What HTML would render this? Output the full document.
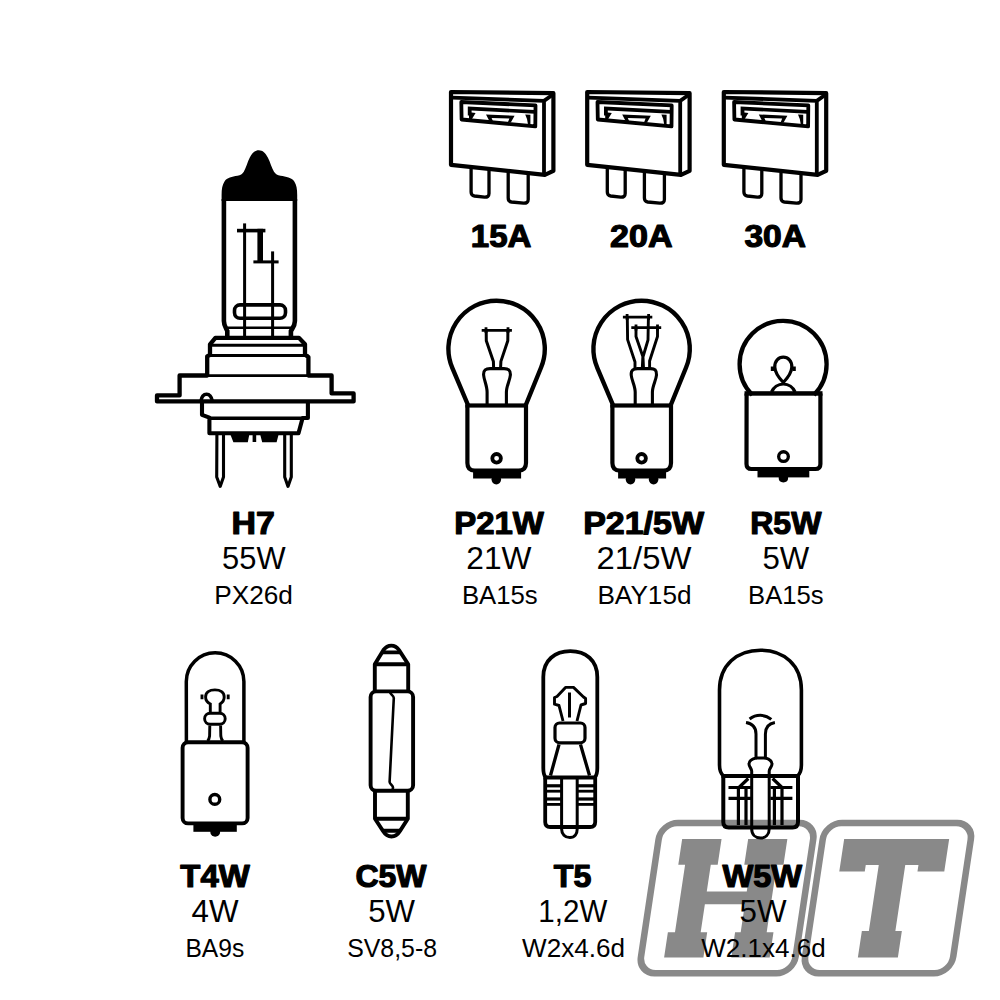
<!DOCTYPE html>
<html><head><meta charset="utf-8"><title>Bulb set</title>
<style>html,body{margin:0;padding:0;background:#fff;}svg{display:block;}text{font-family:"Liberation Sans",sans-serif;fill:#000;}</style>
</head><body>
<svg width="1000" height="1000" viewBox="0 0 1000 1000">
<rect width="1000" height="1000" fill="#fff"/>
<g transform="translate(135,0) skewX(-8.53)" >
<rect x="649.5" y="823" width="154.6" height="150.2" rx="16.5" ry="16.5" fill="none" stroke="#898989" stroke-width="6.6"/>
<rect x="813.6" y="823" width="148.1" height="150.2" rx="16.5" ry="16.5" fill="none" stroke="#898989" stroke-width="6.6"/>
<path fill="#898989" d="M835,839 L940,839 L940,871.6 L913.2,871.6 L913.2,865 L900,865 L900,931 L906.5,931 L906.5,957.6 L866.5,957.6 L866.5,931 L873.5,931 L873.5,865 L860.5,865 L860.5,871.6 L835,871.6 Z"/>
<path fill="#898989" d="M673,839 L712.4,839 L712.4,864.8 L705.5,864.8 L705.5,891.6 L745.5,891.6 L745.5,864.8 L739,864.8 L739,839 L778.2,839 L778.2,864.8 L771.5,864.8 L771.5,932.2 L778.3,932.2 L778.3,957.4 L739.9,957.4 L739.9,932.2 L745.5,932.2 L745.5,904.2 L705.5,904.2 L705.5,932.2 L712,932.2 L712,957.4 L672.7,957.4 L672.7,932.2 L679.8,932.2 L679.8,864.8 L673,864.8 Z"/>
</g>
<g>
<path d="M258.8,150.2 C255,150.2 252,153 249.8,157.5 C247.5,162 246,168 243.8,171.8 C242.3,174.3 240.5,175.2 237.5,175.8 C232,176.8 227,177.5 224.5,181.5 C222.3,185 221.6,189 221.6,195 L221.6,201 L297.2,201 L297.2,195 C297.2,189 296.5,185 294.3,181.5 C291.8,177.5 286,176.8 280.5,175.8 C277.5,175.2 275.5,174.3 274,171.8 C271.7,168 270.2,162 267.8,157.5 C265.6,153 262.6,150.2 258.8,150.2 Z"/>
<path fill="none" stroke="#000" stroke-width="4.6" d="M223.9,199 L223.9,321 C223.9,326 226,328 227.3,331 L227.3,338 M294.9,199 L294.9,321 C294.9,326 292.5,328 290.9,331 L290.9,338"/>
<path fill="none" stroke="#000" stroke-width="2.6" d="M226,327.8 L292.4,327.8"/>
<rect x="243.1" y="223.4" width="3" height="114"/>
<rect x="271.1" y="251.4" width="3" height="86"/>
<rect x="237" y="228.8" width="28.4" height="3.6"/>
<rect x="257.4" y="228.8" width="5.6" height="34"/>
<rect x="253.4" y="260.4" width="25.2" height="3"/>
<rect x="234.5" y="304.9" width="51" height="13.4" rx="5.5" fill="none" stroke="#000" stroke-width="3.6"/>
<path fill="none" stroke="#000" stroke-width="4.3" stroke-linejoin="round" d="M215.4,337.9 L299,337.9 L305,344.3 L305,354.8 L308.4,357 L308.4,375.5 L331.6,375.5 L331.6,393.4 L353.6,393.4 L353.6,401.4 L157,401.4 L157,395.4 L179.6,395.4 L179.6,375.5 L207.2,375.5 L207.2,356.4 L210,354.8 L210,344.3 Z"/>
<path fill="none" stroke="#000" stroke-width="2.9" d="M210,345.3 L305,345.3 M207.2,355.5 L308.4,355.5 M207.2,375.6 L308.4,375.6"/>
<path fill="none" stroke="#000" stroke-width="3.5" d="M200.8,401.6 C201.5,396.5 204,394.3 206.6,394.3 C209.2,394.3 211.5,396.5 212.5,401.6"/>
<path fill="none" stroke="#000" stroke-width="4.1" stroke-linejoin="round" d="M202,401.6 L202,414.8 L209.4,417.6 L209.4,433.3 L298.5,433.3 L302.6,418 L307.9,418 L307.9,401.6"/>
<path fill="none" stroke="#000" stroke-width="3.4" d="M209.4,418.2 L303,418.2"/>
<path d="M229.8,433 L249.6,433 L247.8,442.2 L233.4,442.2 Z M259.8,433 L279,433 L276.6,442.2 L262.2,442.2 Z M252.6,433 L256.2,433 L256.2,442 L252.6,442 Z"/>
<path fill="none" stroke="#000" stroke-width="3.1" stroke-linejoin="round" d="M216.9,434 L216.7,477 L220.2,486.4 L223.5,477 L223.5,434 M284.7,434 L284.7,477 L288,486.4 L291.3,477 L291.3,434"/>
</g>
<g transform="translate(0,0)" fill="none" stroke="#000" stroke-linejoin="round"><path stroke-width="4.2" d="M451,92 L553.4,93.2 L553.4,170.8 L544.8,174.8 L451,164.8 Z"/><path stroke-width="3.8" d="M452,97.6 L544,100.9 L553.3,94.2 M544,100.6 L544,175"/><path stroke-width="3.8" d="M461.3,102 L535.5,105.4 L535.3,126.4 L461.6,119.5 Z"/></g><g transform="translate(0,0)"><path d="M467.8,106.6 L535,110.1 L535,113.7 L471.6,110.4 L471.6,112.6 L475.6,113 L471.8,119.2 L469,119.2 L469,115.5 L467.8,115.5 Z"/><path fill-rule="evenodd" d="M486,114.4 L514.6,115.8 L510.8,122.5 L489.6,121.5 Z M491.6,117.9 L509.4,118.6 L507.8,122.5 L493.2,121.8 Z"/><path d="M525.2,114.6 L530.4,114.8 L530.4,124.6 L528,124.4 L527,119 Z"/></g><g transform="translate(0,0)" fill="none" stroke="#000" stroke-linejoin="round"><path stroke-width="3.3" d="M471.1,166.4 L471.1,192 Q471.1,195.5 474.5,196 L484.5,197.2 Q489,197.4 489,193.5 L489,168"/><path stroke-width="3.3" d="M508.2,172.4 L508.2,198 Q508.2,201.5 511.5,202 L523.5,203.2 Q528.2,203.4 528.2,199.5 L528.2,174.2"/></g>
<g transform="translate(136.2,0)" fill="none" stroke="#000" stroke-linejoin="round"><path stroke-width="4.2" d="M451,92 L553.4,93.2 L553.4,170.8 L544.8,174.8 L451,164.8 Z"/><path stroke-width="3.8" d="M452,97.6 L544,100.9 L553.3,94.2 M544,100.6 L544,175"/><path stroke-width="3.8" d="M461.3,102 L535.5,105.4 L535.3,126.4 L461.6,119.5 Z"/></g><g transform="translate(136.2,0)"><path d="M467.8,106.6 L535,110.1 L535,113.7 L471.6,110.4 L471.6,112.6 L475.6,113 L471.8,119.2 L469,119.2 L469,115.5 L467.8,115.5 Z"/><path fill-rule="evenodd" d="M486,114.4 L514.6,115.8 L510.8,122.5 L489.6,121.5 Z M491.6,117.9 L509.4,118.6 L507.8,122.5 L493.2,121.8 Z"/><path d="M525.2,114.6 L530.4,114.8 L530.4,124.6 L528,124.4 L527,119 Z"/></g><g transform="translate(136.2,0)" fill="none" stroke="#000" stroke-linejoin="round"><path stroke-width="3.3" d="M471.1,166.4 L471.1,192 Q471.1,195.5 474.5,196 L484.5,197.2 Q489,197.4 489,193.5 L489,168"/><path stroke-width="3.3" d="M508.2,172.4 L508.2,198 Q508.2,201.5 511.5,202 L523.5,203.2 Q528.2,203.4 528.2,199.5 L528.2,174.2"/></g>
<g transform="translate(272.8,0)" fill="none" stroke="#000" stroke-linejoin="round"><path stroke-width="4.2" d="M451,92 L553.4,93.2 L553.4,170.8 L544.8,174.8 L451,164.8 Z"/><path stroke-width="3.8" d="M452,97.6 L544,100.9 L553.3,94.2 M544,100.6 L544,175"/><path stroke-width="3.8" d="M461.3,102 L535.5,105.4 L535.3,126.4 L461.6,119.5 Z"/></g><g transform="translate(272.8,0)"><path d="M467.8,106.6 L535,110.1 L535,113.7 L471.6,110.4 L471.6,112.6 L475.6,113 L471.8,119.2 L469,119.2 L469,115.5 L467.8,115.5 Z"/><path fill-rule="evenodd" d="M486,114.4 L514.6,115.8 L510.8,122.5 L489.6,121.5 Z M491.6,117.9 L509.4,118.6 L507.8,122.5 L493.2,121.8 Z"/><path d="M525.2,114.6 L530.4,114.8 L530.4,124.6 L528,124.4 L527,119 Z"/></g><g transform="translate(272.8,0)" fill="none" stroke="#000" stroke-linejoin="round"><path stroke-width="3.3" d="M471.1,166.4 L471.1,192 Q471.1,195.5 474.5,196 L484.5,197.2 Q489,197.4 489,193.5 L489,168"/><path stroke-width="3.3" d="M508.2,172.4 L508.2,198 Q508.2,201.5 511.5,202 L523.5,203.2 Q528.2,203.4 528.2,199.5 L528.2,174.2"/></g>
<path fill="none" stroke="#000" stroke-width="4.4" d="M468,405 L452.4,368.12 A48.2,48.2 0 1 1 541.07,367.5 L525.8,405"/><path fill="none" stroke="#000" stroke-width="4.2" d="M467.4,405 L467.4,463 Q467.4,470.6 474.9,470.6 L518.5,470.6 Q526,470.6 526,463 L526,405"/><rect x="465.4" y="403.4" width="62.6" height="4.2"/><rect x="473.1" y="471.5" width="48" height="7"/><circle cx="496.3" cy="479.6" r="4.8"/><circle cx="496.6" cy="458.3" r="4.3" fill="none" stroke="#000" stroke-width="3.8"/>
<g fill="none" stroke="#000" stroke-width="2.8" stroke-linejoin="round">
<path d="M481.7,330.4 L511.9,330.4 M486,327.2 L486,333 M508,327.2 L508,333"/>
<path stroke-width="3" d="M486.2,331 L486.3,340.7 L493.4,361.4 L493.6,367.5 M507.9,331 L507.8,340.7 L500.9,361.4 L500.6,367.5"/>
<path stroke-width="3.1" d="M487.1,405 L487.1,392 C487.1,386 484,380 483.6,375 C483.3,370 486,368.6 490,368.6 L504,368.6 C508,368.6 510.6,370 510.4,375 C510,380 506.4,386 506.4,392 L506.4,405"/>
</g>
<path fill="none" stroke="#000" stroke-width="4.4" d="M613,405 L597.4,368.12 A48.2,48.2 0 1 1 686.07,367.5 L670.8,405"/><path fill="none" stroke="#000" stroke-width="4.2" d="M612.4,405 L612.4,463 Q612.4,470.6 619.9,470.6 L663.5,470.6 Q671,470.6 671,463 L671,405"/><rect x="610.4" y="403.4" width="62.6" height="4.2"/><rect x="618.1" y="471.5" width="48" height="7"/><circle cx="630.5" cy="479.6" r="4.8"/><circle cx="653.6" cy="479.6" r="4.8"/><circle cx="641.6" cy="458.3" r="4.3" fill="none" stroke="#000" stroke-width="3.8"/>
<g fill="none" stroke="#000" stroke-width="2.8" stroke-linejoin="round">
<path d="M622.9,317.1 L652.3,317.1 M627.1,313.9 L627.1,319.9 M648.6,313.9 L648.6,319.9"/>
<path d="M631.3,327.6 L661.2,327.6 M636,324.4 L636,330.4 M657.5,324.4 L657.5,330.4"/>
<path stroke-width="2.9" d="M627.3,318 L627.6,339.6 L635,362 L635,368 M648.4,318 L648,340 L642.8,357.5 L642.3,368 M636,328 L636,336.5 L643,357 L643.5,368 M657.5,328 L657.5,336.5 L649.6,361 L649.6,368"/>
<path stroke-width="3.1" d="M635.2,405 L635.2,392 C635.2,386 631.6,380 631.2,375 C630.9,370 633.6,368.6 637.6,368.6 L650.6,368.6 C654.6,368.6 656.8,370 656.5,375 C656.1,380 652.4,386 652.4,392 L652.4,405"/>
</g>
<path fill="none" stroke="#000" stroke-width="4.3" d="M752.28,395 A43.5,43.5 0 1 1 813.92,395"/>
<path fill="none" stroke="#000" stroke-width="4.2" d="M746.6,393.5 L746.5,464 Q746.5,469 751.5,469 L815.4,469 Q820.4,469 820.4,464 L820.4,393.5"/>
<rect x="744.5" y="391.2" width="78" height="4.5"/>
<rect x="757.5" y="469" width="51.8" height="8.4"/>
<path d="M778.7,477 L778.7,478 Q778.7,482.4 783.4,482.4 Q788.1,482.4 788.1,478 L788.1,477 Z"/>
<circle cx="783.5" cy="456.6" r="4.85" fill="none" stroke="#000" stroke-width="3.3"/>
<g fill="none" stroke="#000" stroke-width="3.2">
<path d="M783.3,382.5 C779,378 775,373 774.8,367 C774.6,361 778.5,357.2 783.3,357.2 C788.1,357.2 792,361 791.8,367 C791.6,373 787.6,378 783.3,382.5 Z"/>
<path d="M772.4,366.5 L772.4,371 M794.2,366.5 L794.2,371"/>
<path d="M771.5,392 C773.5,387.5 778,384 783.3,384 C788.6,384 793.1,387.5 795.1,392"/>
</g>
<path fill="none" stroke="#000" stroke-width="3.5" d="M186.4,742 L186.3,681.5 A28.8,28.8 0 0 1 243.9,681.5 L243.9,742"/>
<rect x="182.6" y="742.2" width="65" height="81.2" rx="5.5" fill="none" stroke="#000" stroke-width="3.9"/>
<rect x="193.4" y="824" width="43.4" height="7.8"/>
<circle cx="215.2" cy="831.9" r="4.9"/>
<circle cx="214.8" cy="799.4" r="4.9" fill="none" stroke="#000" stroke-width="3.4"/>
<g fill="none" stroke="#000" stroke-width="2.9">
<path d="M210.3,712.5 L210.3,704 C206.5,702 205.6,699 205.6,697 C205.6,692.5 209.5,689.9 214.9,689.9 C220.3,689.9 224.2,692.5 224.2,697 C224.2,699 223.3,702 220.1,704 L220.1,712.5"/>
<path d="M202,694.4 L202,699.3 M228.2,694.4 L228.2,699.3"/>
<rect x="204.6" y="713.2" width="20.6" height="11.1" rx="5.5"/>
<path d="M209.8,725.5 L209.6,736 Q209.2,739.5 207.5,741 M220.6,725.5 L220.8,736 Q221.2,739.5 223,741"/>
</g>
<g fill="none" stroke="#000" stroke-width="3.9" stroke-linejoin="round">
<path d="M374.8,690.5 L374.8,664.3 L383.5,650 C386,646.5 388.5,645.6 391.3,645.6 C394.1,645.6 396.6,646.5 399,650 L408.2,664.3 L408.2,690.5"/>
<path d="M374.8,664.3 L408.2,664.3 M382.6,652.4 L400,652.4"/>
<rect x="370.6" y="691.4" width="42.5" height="99.3" rx="5.5"/>
<path d="M375,791 L375,818.7 L383,831 C385.5,835 388,836.5 391.5,836.5 C395,836.5 397.5,835 400,831 L407.8,818.7 L407.8,791"/>
<path d="M375,818.7 L407.8,818.7 M382.5,830.7 L400.5,830.7"/>
<path stroke-width="2.6" d="M390,692.2 C390.5,694.5 393.8,695.5 393.8,698 L389.6,782 C389.8,784.5 393,785 393,787.5 L392.6,790"/>
</g>
<g fill="none" stroke="#000" stroke-width="3.8" stroke-linejoin="round">
<path d="M545.5,777 C543.5,775 543.3,772 543.3,768 L543.3,677 C543.3,660 555,651.2 570.3,651.2 C585.6,651.2 597.3,660 597.3,677 L597.3,768 C597.3,772 597,775 595,777"/>
<path d="M545.2,777.4 L545.2,822 Q545.2,827 550.2,827 L590.2,827 Q595.2,827 595.2,822 L595.2,777.4"/>
<path stroke-width="4" d="M543.5,777.4 L597,777.4"/>
<path stroke-width="3" d="M561.6,779 L561.6,829 C561.6,834 565,837.6 569.9,837.6 C574.8,837.6 577.2,834 577.2,829 L577.2,779"/>
</g>
<g>
<rect x="546" y="784.2" width="15" height="3.2"/>
<rect x="578" y="784.2" width="16" height="3.2"/>
<rect x="546" y="789.8" width="15" height="2.8"/>
<rect x="578" y="789.8" width="16" height="2.8"/>
<rect x="546" y="797.4" width="15" height="3.2"/>
<rect x="578" y="797.4" width="16" height="3.2"/>
<rect x="546" y="803" width="15" height="2.8"/>
<rect x="578" y="803" width="16" height="2.8"/>
</g>
<g fill="none" stroke="#000" stroke-width="2.9" stroke-linejoin="round">
<path d="M563,721 L559,705.5 L554.5,704.2 L554.5,697.5 L557,696.5 L565.5,687.4 L573.5,687.4 L583.5,697 L585.6,698.5 L585.6,703.5 L581,705 L577,721"/>
<path stroke-width="3" d="M569.5,692.5 L569.5,717.5"/>
<rect x="555" y="723" width="30" height="19.8" rx="4.5" stroke-width="3.2"/>
<path stroke-width="3.3" d="M559,744.5 L550.5,775.5 M580.5,744.5 L589.5,775.5"/>
</g>
<g fill="none" stroke="#000" stroke-width="3.6" stroke-linejoin="round">
<path d="M723.5,776 C720,773 719.5,770 719.5,765 L719.5,690 C719.5,665 737,650.2 760.5,650.2 C784,650.2 801.4,665 801.4,690 L801.4,765 C801.4,770 801,773 797.5,776"/>
<path stroke-width="4" d="M723.3,776 L723.3,822 Q723.3,827.4 728.7,827.4 L792.6,827.4 Q798,827.4 798,822 L798,776"/>
<path stroke-width="4" d="M721.5,776 L799.8,776"/>
</g>
<g fill="none" stroke="#000" stroke-width="3" stroke-linejoin="round">
<path d="M749.6,719 C756,714 765,714 771.3,719.4"/>
<path d="M746,722.6 C751.5,723.5 756,727 756,734 L756,758 C752,759 749,760.5 749,764 C749,766.5 751.5,768.5 751.7,771 L751.7,829 C751.7,834.5 755.3,838 760.5,838 C765.7,838 769.2,834.5 769.2,829 L769.2,771 C769.4,768.5 772,766.5 772,764 C772,760.5 769,759 765.4,758 L765.4,734 C765.4,727 769.5,723.5 774.9,722.6"/>
<path d="M756,758 L765.4,758"/>
<path stroke-width="3.2" d="M748.3,778.5 L738.4,788 L738.4,825 M746,788.4 L746,825 M728.5,787.5 L751,787.5 M728.5,798.3 L751,798.3"/>
<path stroke-width="3.2" d="M772.6,778.5 L782,787.5 L782,825 M774.4,788.4 L774.4,825 M770.4,787.5 L792.4,787.5 M770.4,798.3 L792.4,798.3"/>
</g>
<text x="501.1" y="246.7" font-size="31.5" font-weight="bold" textLength="60.6" lengthAdjust="spacingAndGlyphs" text-anchor="middle" stroke="#000" stroke-width="1.2" stroke-linejoin="round">15A</text>
<text x="641.25" y="246.7" font-size="31.5" font-weight="bold" textLength="62.5" lengthAdjust="spacingAndGlyphs" text-anchor="middle" stroke="#000" stroke-width="1.2" stroke-linejoin="round">20A</text>
<text x="775.2" y="246.7" font-size="31.5" font-weight="bold" textLength="61.5" lengthAdjust="spacingAndGlyphs" text-anchor="middle" stroke="#000" stroke-width="1.2" stroke-linejoin="round">30A</text>
<text x="253.2" y="533.8" font-size="32.2" font-weight="bold" textLength="43.3" lengthAdjust="spacingAndGlyphs" text-anchor="middle" stroke="#000" stroke-width="1.2" stroke-linejoin="round">H7</text>
<text x="253.8" y="569" font-size="31.4" font-weight="normal" textLength="63.5" lengthAdjust="spacingAndGlyphs" text-anchor="middle">55W</text>
<text x="253.58" y="603.7" font-size="26.2" font-weight="normal" textLength="78.75" lengthAdjust="spacingAndGlyphs" text-anchor="middle">PX26d</text>
<text x="499" y="533.8" font-size="32.2" font-weight="bold" textLength="89.6" lengthAdjust="spacingAndGlyphs" text-anchor="middle" stroke="#000" stroke-width="1.2" stroke-linejoin="round">P21W</text>
<text x="498.9" y="569" font-size="31.4" font-weight="normal" textLength="65.2" lengthAdjust="spacingAndGlyphs" text-anchor="middle">21W</text>
<text x="499.8" y="603.7" font-size="26.2" font-weight="normal" textLength="75.8" lengthAdjust="spacingAndGlyphs" text-anchor="middle">BA15s</text>
<text x="643.6" y="533.8" font-size="32.2" font-weight="bold" textLength="120.9" lengthAdjust="spacingAndGlyphs" text-anchor="middle" stroke="#000" stroke-width="1.2" stroke-linejoin="round">P21/5W</text>
<text x="644" y="569" font-size="31.4" font-weight="normal" textLength="94.8" lengthAdjust="spacingAndGlyphs" text-anchor="middle">21/5W</text>
<text x="644.5" y="603.7" font-size="26.2" font-weight="normal" textLength="94.2" lengthAdjust="spacingAndGlyphs" text-anchor="middle">BAY15d</text>
<text x="785.8" y="533.8" font-size="32.2" font-weight="bold" textLength="71.2" lengthAdjust="spacingAndGlyphs" text-anchor="middle" stroke="#000" stroke-width="1.2" stroke-linejoin="round">R5W</text>
<text x="785.8" y="569" font-size="31.4" font-weight="normal" textLength="46.8" lengthAdjust="spacingAndGlyphs" text-anchor="middle">5W</text>
<text x="785.9" y="603.7" font-size="26.2" font-weight="normal" textLength="75.6" lengthAdjust="spacingAndGlyphs" text-anchor="middle">BA15s</text>
<text x="215" y="887.3" font-size="31.6" font-weight="bold" textLength="69.4" lengthAdjust="spacingAndGlyphs" text-anchor="middle" stroke="#000" stroke-width="1.2" stroke-linejoin="round">T4W</text>
<text x="215" y="922" font-size="31.4" font-weight="normal" textLength="47" lengthAdjust="spacingAndGlyphs" text-anchor="middle">4W</text>
<text x="214.8" y="956.8" font-size="26.2" font-weight="normal" textLength="58.8" lengthAdjust="spacingAndGlyphs" text-anchor="middle">BA9s</text>
<text x="391" y="887.3" font-size="31.6" font-weight="bold" textLength="71.2" lengthAdjust="spacingAndGlyphs" text-anchor="middle" stroke="#000" stroke-width="1.2" stroke-linejoin="round">C5W</text>
<text x="391.6" y="922" font-size="31.4" font-weight="normal" textLength="46.8" lengthAdjust="spacingAndGlyphs" text-anchor="middle">5W</text>
<text x="392.1" y="956.8" font-size="26.2" font-weight="normal" textLength="89.8" lengthAdjust="spacingAndGlyphs" text-anchor="middle">SV8,5-8</text>
<text x="572.52" y="887.3" font-size="31.6" font-weight="bold" textLength="37.55" lengthAdjust="spacingAndGlyphs" text-anchor="middle" stroke="#000" stroke-width="1.2" stroke-linejoin="round">T5</text>
<text x="572.8" y="922" font-size="31.4" font-weight="normal" textLength="68.9" lengthAdjust="spacingAndGlyphs" text-anchor="middle">1,2W</text>
<text x="573.5" y="956.8" font-size="26.2" font-weight="normal" textLength="102.9" lengthAdjust="spacingAndGlyphs" text-anchor="middle">W2x4.6d</text>
<text x="762.28" y="887.3" font-size="31.6" font-weight="bold" textLength="79.75" lengthAdjust="spacingAndGlyphs" text-anchor="middle" stroke="#000" stroke-width="1.2" stroke-linejoin="round">W5W</text>
<text x="763" y="922" font-size="31.4" font-weight="normal" textLength="47" lengthAdjust="spacingAndGlyphs" text-anchor="middle">5W</text>
<text x="763.5" y="956.8" font-size="26.2" font-weight="normal" textLength="124.5" lengthAdjust="spacingAndGlyphs" text-anchor="middle">W2.1x4.6d</text>
</svg>
</body></html>
